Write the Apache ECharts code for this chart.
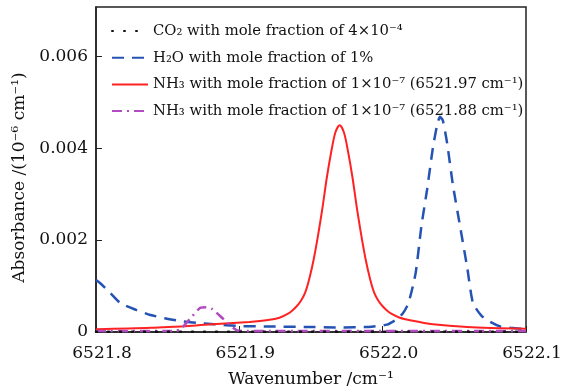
<!DOCTYPE html>
<html>
<head>
<meta charset="utf-8">
<script src="https://cdn.jsdelivr.net/npm/echarts@6/dist/echarts.min.js"></script>
<style>
  html, body { margin: 0; padding: 0; background: #fff; }
  #chart { width: 571px; height: 389px; }
</style>
</head>
<body>
<div id="chart"></div>
<script>
const seriesNames = [
  "CO₂ with mole fraction of 4×10⁻⁴",
  "H₂O with mole fraction of 1%",
  "NH₃ with mole fraction of 1×10⁻⁷ (6521.97 cm⁻¹)",
  "NH₃ with mole fraction of 1×10⁻⁷ (6521.88 cm⁻¹)"
];

const co2X = [6521.8, 6521.9, 6522.0, 6522.1];
const co2Y = [0.000005, 0.000005, 0.000005, 0.000005];

const h2oX = [6521.800, 6521.803, 6521.810, 6521.817, 6521.828, 6521.838, 6521.848, 6521.859, 6521.870, 6521.882,
  6521.900, 6521.920, 6521.945, 6521.970, 6521.990, 6522.003, 6522.009, 6522.014, 6522.018, 6522.023,
  6522.027, 6522.031, 6522.035, 6522.038, 6522.040, 6522.042, 6522.045, 6522.049, 6522.054, 6522.059,
  6522.063, 6522.069, 6522.075, 6522.082, 6522.089, 6522.100];
const h2oY = [0.00113, 0.00106, 0.00085, 0.00063, 0.00048, 0.00037, 0.00030, 0.00024, 0.00020, 0.00017,
  0.00013, 0.00012, 0.00011, 0.00010, 0.00011, 0.00016, 0.00026, 0.00040, 0.00063, 0.00128,
  0.0023, 0.0031, 0.0040, 0.0045, 0.00468, 0.0046, 0.0041, 0.0032, 0.0023, 0.0014,
  0.00063, 0.00035, 0.00022, 0.00012, 0.00009, 0.00006];

const nh3aX = [6521.800, 6521.838, 6521.873, 6521.907, 6521.920, 6521.928, 6521.934, 6521.937, 6521.940, 6521.943,
  6521.946, 6521.949, 6521.952, 6521.955, 6521.958, 6521.961, 6521.964, 6521.967, 6521.970, 6521.973,
  6521.976, 6521.979, 6521.982, 6521.985, 6521.988, 6521.991, 6521.994, 6521.997, 6522.000, 6522.003,
  6522.006, 6522.012, 6522.020, 6522.035, 6522.059, 6522.100];
const nh3aY = [0.00006, 0.00009, 0.00015, 0.00022, 0.00026, 0.00031, 0.00040, 0.00047, 0.00056, 0.00068,
  0.00086, 0.00118, 0.00160, 0.00212, 0.00270, 0.00335, 0.00390, 0.00434, 0.00450, 0.00434,
  0.00390, 0.00335, 0.00270, 0.00212, 0.00160, 0.00118, 0.00086, 0.00068, 0.00056, 0.00047,
  0.00040, 0.00031, 0.00025, 0.00017, 0.00011, 0.00007];

const nh3bX = [6521.800, 6521.855, 6521.859, 6521.866, 6521.873, 6521.877, 6521.881, 6521.889, 6521.898, 6521.905, 6522.100];
const nh3bY = [0.00002, 0.00002, 0.00006, 0.00030, 0.00053, 0.00054, 0.00050, 0.00028, 0.00004, 0.00002, 0.00002];

const xTicks = [6521.8, 6521.9, 6522.0, 6522.1];

const zip = (xs, ys) => xs.map((x, i) => [x, ys[i]]);
const font = "DejaVu Serif";
const ink = "#111";

const chart = echarts.init(document.getElementById("chart"));
chart.setOption({
  animation: false,
  backgroundColor: "#fff",
  grid: {
    left: 96, right: 45, top: 7, bottom: 57,
    outerBoundsMode: "none",
    containLabel: false,
    show: true, borderColor: "#222", borderWidth: 1.5
  },
  legend: {
    orient: "vertical",
    left: 106,
    top: 17,
    itemWidth: 36,
    itemHeight: 14,
    itemGap: 8.7,
    data: seriesNames,
    itemStyle: { opacity: 0 },
    textStyle: { fontFamily: font, fontSize: 14.8, color: ink, lineHeight: 18 }
  },
  xAxis: {
    type: "value",
    min: 6521.8,
    max: 6522.1,
    interval: 0.1,
    name: "Wavenumber /cm⁻¹",
    nameLocation: "middle",
    nameGap: 39,
    nameTextStyle: { fontFamily: font, fontSize: 17, color: ink },
    axisLine: { lineStyle: { color: "#222", width: 1.5 } },
    axisTick: { inside: true, length: 6, lineStyle: { color: "#222" } },
    splitLine: { show: false },
    axisLabel: {
      fontFamily: font, fontSize: 17, color: ink, margin: 13,
      padding: [0, 0, 0, 12],
      formatter: v => xTicks.some(t => Math.abs(t - v) < 1e-6) ? v.toFixed(1) : ""
    }
  },
  yAxis: {
    type: "value",
    min: 0,
    max: 0.00707,
    interval: 0.002,
    name: "Absorbance /(10⁻⁶ cm⁻¹)",
    nameLocation: "middle",
    nameGap: 57,
    nameTextStyle: { fontFamily: font, fontSize: 17, color: ink, padding: [0, 16, 0, 0] },
    axisLine: { lineStyle: { color: "#222", width: 1.5 } },
    axisTick: { inside: true, length: 6, lineStyle: { color: "#222" } },
    splitLine: { show: false },
    axisLabel: {
      fontFamily: font, fontSize: 17, color: ink, margin: 8,
      showMaxLabel: false,
      formatter: v => v === 0 ? "0" : (v > 0.0065 ? "" : v.toFixed(3))
    }
  },
  series: [
    {
      name: seriesNames[0], type: "line", data: zip(co2X, co2Y),
      showSymbol: false, symbol: "none",
      lineStyle: { color: "#111", width: 2.5, type: [1, 11], cap: "round" },
      itemStyle: { color: "#111" }, z: 5
    },
    {
      name: seriesNames[1], type: "line", data: zip(h2oX, h2oY),
      showSymbol: false, symbol: "none", smooth: 0.2,
      lineStyle: { color: "#2453b4", width: 2.5, type: [12, 8] },
      itemStyle: { color: "#2453b4" }, z: 2
    },
    {
      name: seriesNames[2], type: "line", data: zip(nh3aX, nh3aY),
      showSymbol: false, symbol: "none", smooth: 0.3,
      lineStyle: { color: "#ff2222", width: 2 },
      itemStyle: { color: "#ff2222" }, z: 3
    },
    {
      name: seriesNames[3], type: "line", data: zip(nh3bX, nh3bY),
      showSymbol: false, symbol: "none", smooth: 0.2,
      lineStyle: { color: "#b04cc0", width: 2.5, type: [10, 5, 2, 5] },
      itemStyle: { color: "#b04cc0" }, z: 4
    }
  ]
});
</script>
</body>
</html>
